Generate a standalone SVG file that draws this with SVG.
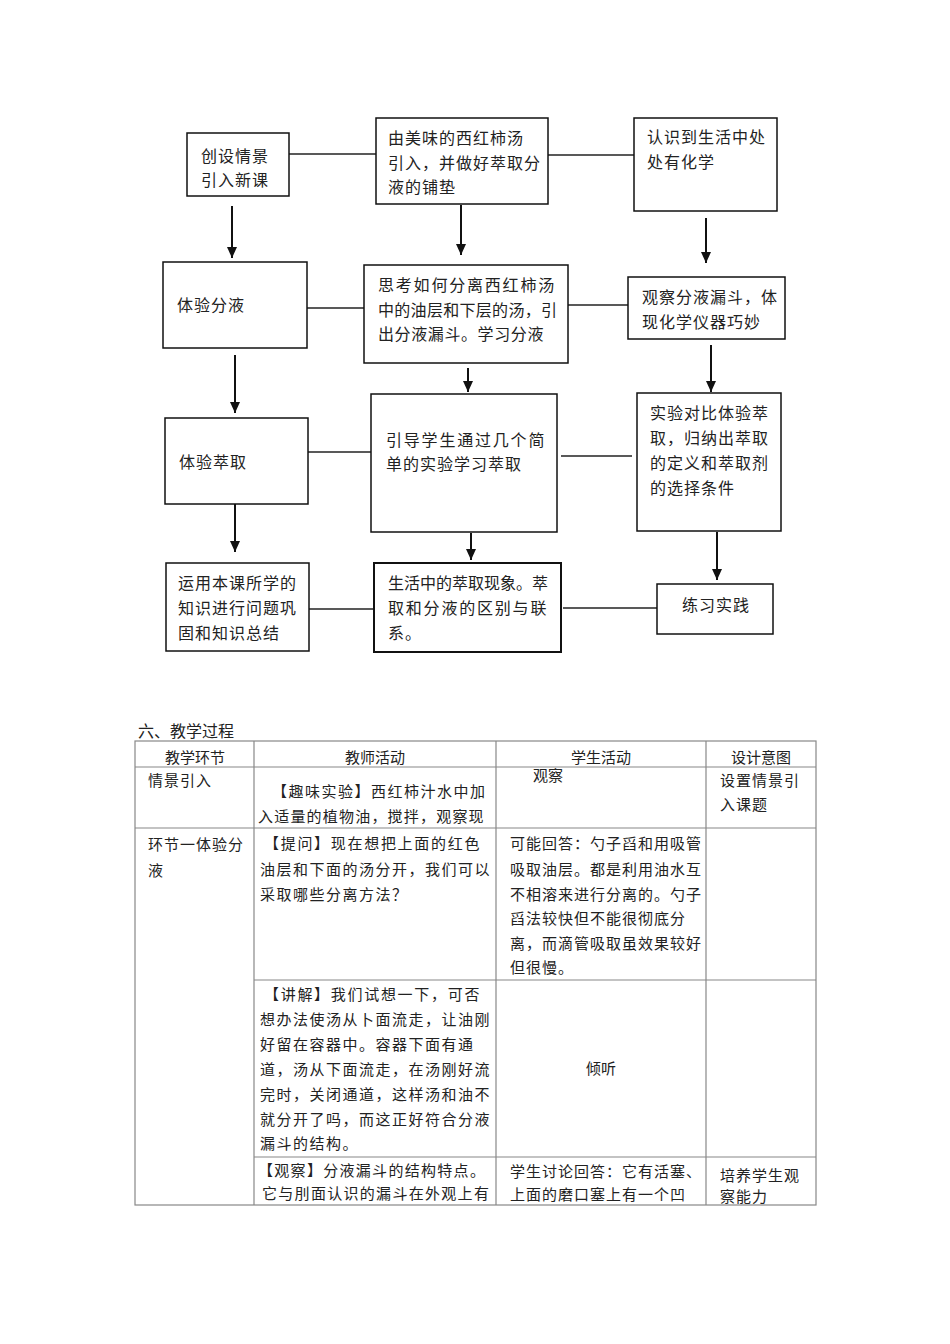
<svg xmlns="http://www.w3.org/2000/svg" width="950" height="1344" viewBox="0 0 950 1344">
<style>
.box{fill:#fff;stroke:#111;stroke-width:1.5}
.cn{stroke:#222;stroke-width:1.4;fill:none}
.ar{stroke:#111;stroke-width:2;fill:none}
.ft{font-family:"Noto Sans CJK SC","Noto Sans",sans-serif;font-size:16px;fill:#222;letter-spacing:1px}
.tt{font-family:"Noto Sans CJK SC","Noto Sans",sans-serif;font-size:15px;fill:#222}
.grid{stroke:#888;stroke-width:1.2;fill:none}
</style>
<defs>
<marker id="ah" markerWidth="11" markerHeight="10" refX="11" refY="5" orient="auto" markerUnits="userSpaceOnUse" viewBox="0 0 11 10">
<path d="M0,0 L11,5 L0,10 Z" fill="#111"/>
</marker>
</defs>
<rect width="950" height="1344" fill="#fff"/>

<g id="connectors">
<line class="cn" x1="289" y1="154" x2="376" y2="154"/>
<line class="cn" x1="548" y1="155" x2="634" y2="155"/>
<line class="cn" x1="307" y1="308" x2="364" y2="308"/>
<line class="cn" x1="568" y1="305" x2="628" y2="305"/>
<line class="cn" x1="308" y1="452" x2="371" y2="452"/>
<line class="cn" x1="561" y1="456" x2="632" y2="456"/>
<line class="cn" x1="309" y1="609" x2="374" y2="609"/>
<line class="cn" x1="563" y1="608" x2="657" y2="608"/>
<line class="ar" x1="232" y1="206" x2="232" y2="258" marker-end="url(#ah)"/>
<line class="ar" x1="461" y1="205" x2="461" y2="255" marker-end="url(#ah)"/>
<line class="ar" x1="706" y1="218" x2="706" y2="263" marker-end="url(#ah)"/>
<line class="ar" x1="235" y1="355" x2="235" y2="413" marker-end="url(#ah)"/>
<line class="ar" x1="468" y1="368" x2="468" y2="392" marker-end="url(#ah)"/>
<line class="ar" x1="711" y1="345" x2="711" y2="392" marker-end="url(#ah)"/>
<line class="ar" x1="235" y1="504" x2="235" y2="552" marker-end="url(#ah)"/>
<line class="ar" x1="471" y1="533" x2="471" y2="560" marker-end="url(#ah)"/>
<line class="ar" x1="717" y1="532" x2="717" y2="580" marker-end="url(#ah)"/>
</g>

<g id="nA">
<rect class="box" x="187" y="133" width="102" height="63"/>
<text class="ft" x="201" y="162">创设情景</text>
<text class="ft" x="201" y="186">引入新课</text>
</g>
<g id="nB">
<rect class="box" x="376" y="118" width="172" height="86"/>
<text class="ft" x="388" y="144">由美味的西红柿汤</text>
<text class="ft" x="388" y="169">引入，并做好萃取分</text>
<text class="ft" x="388" y="193">液的铺垫</text>
</g>
<g id="nC">
<rect class="box" x="634" y="118" width="143" height="93"/>
<text class="ft" x="647" y="143">认识到生活中处</text>
<text class="ft" x="647" y="168">处有化学</text>
</g>
<g id="nD">
<rect class="box" x="163" y="262" width="144" height="86"/>
<text class="ft" x="177" y="311">体验分液</text>
</g>
<g id="nE">
<rect class="box" x="364" y="265" width="204" height="98"/>
<text class="ft" x="378" y="291" style="letter-spacing:1.8px">思考如何分离西红柿汤</text>
<text class="ft" x="378" y="316" style="letter-spacing:0.3px">中的油层和下层的汤，引</text>
<text class="ft" x="378" y="340" style="letter-spacing:0.6px">出分液漏斗。学习分液</text>
</g>
<g id="nF">
<rect class="box" x="628" y="277" width="157" height="62"/>
<text class="ft" x="642" y="303">观察分液漏斗，体</text>
<text class="ft" x="642" y="328">现化学仪器巧妙</text>
</g>
<g id="nG">
<rect class="box" x="165" y="418" width="143" height="86"/>
<text class="ft" x="179" y="468">体验萃取</text>
</g>
<g id="nH">
<rect class="box" x="371" y="394" width="186" height="138"/>
<text class="ft" x="386" y="446" style="letter-spacing:1.8px">引导学生通过几个简</text>
<text class="ft" x="386" y="470">单的实验学习萃取</text>
</g>
<g id="nI">
<rect class="box" x="637" y="393" width="144" height="138"/>
<text class="ft" x="650" y="419">实验对比体验萃</text>
<text class="ft" x="650" y="444">取，归纳出萃取</text>
<text class="ft" x="650" y="469">的定义和萃取剂</text>
<text class="ft" x="650" y="494">的选择条件</text>
</g>
<g id="nJ">
<rect class="box" x="166" y="563" width="143" height="88"/>
<text class="ft" x="178" y="589">运用本课所学的</text>
<text class="ft" x="178" y="614">知识进行问题巩</text>
<text class="ft" x="178" y="639">固和知识总结</text>
</g>
<g id="nK">
<rect class="box" x="374" y="563" width="187" height="89" style="stroke-width:2"/>
<text class="ft" x="388" y="589" style="letter-spacing:0px">生活中的萃取现象。萃</text>
<text class="ft" x="388" y="614" style="letter-spacing:1.8px">取和分液的区别与联</text>
<text class="ft" x="388" y="639">系。</text>
</g>
<g id="nL">
<rect class="box" x="657" y="584" width="116" height="50"/>
<text class="ft" x="682" y="611">练习实践</text>
</g>

<g id="table">
<text class="tt" x="138" y="737" style="font-size:16px">六、教学过程</text>
<rect class="grid" x="135" y="741" width="681" height="464"/>
<line class="grid" x1="135" y1="767" x2="816" y2="767"/>
<line class="grid" x1="135" y1="828" x2="816" y2="828"/>
<line class="grid" x1="254" y1="980" x2="816" y2="980"/>
<line class="grid" x1="254" y1="1157" x2="816" y2="1157"/>
<line class="grid" x1="254" y1="741" x2="254" y2="1205"/>
<line class="grid" x1="496" y1="741" x2="496" y2="1205"/>
<line class="grid" x1="706" y1="741" x2="706" y2="1205"/>

<text class="tt" x="195" y="763" text-anchor="middle">教学环节</text>
<text class="tt" x="375" y="763" text-anchor="middle">教师活动</text>
<text class="tt" x="601" y="763" text-anchor="middle">学生活动</text>
<text class="tt" x="761" y="763" text-anchor="middle">设计意图</text>

<text class="tt" x="148" y="786" style="letter-spacing:1px">情景引入</text>
<text class="tt" x="272" y="797" style="letter-spacing:1.5px">【趣味实验】西红柿汁水中加</text>
<text class="tt" x="258" y="822" style="letter-spacing:1.2px">入适量的植物油，搅拌，观察现</text>
<text class="tt" x="533" y="781">观察</text>
<text class="tt" x="720" y="786" style="letter-spacing:1px">设置情景引</text>
<text class="tt" x="720" y="810" style="letter-spacing:1px">入课题</text>

<text class="tt" x="148" y="850" style="letter-spacing:1px">环节一体验分</text>
<text class="tt" x="148" y="876">液</text>
<text class="tt" x="264" y="849" style="letter-spacing:1.7px">【提问】现在想把上面的红色</text>
<text class="tt" x="260" y="875" style="letter-spacing:1.5px">油层和下面的汤分开，我们可以</text>
<text class="tt" x="260" y="900" style="letter-spacing:1.5px">采取哪些分离方法？</text>
<text class="tt" x="510" y="849" style="letter-spacing:1px">可能回答：勺子舀和用吸管</text>
<text class="tt" x="510" y="875" style="letter-spacing:1px">吸取油层。都是利用油水互</text>
<text class="tt" x="510" y="900" style="letter-spacing:1px">不相溶来进行分离的。勺子</text>
<text class="tt" x="510" y="924" style="letter-spacing:1px">舀法较快但不能很彻底分</text>
<text class="tt" x="510" y="949" style="letter-spacing:1px">离，而滴管吸取虽效果较好</text>
<text class="tt" x="510" y="973" style="letter-spacing:1px">但很慢。</text>

<text class="tt" x="264" y="1000" style="letter-spacing:1.7px">【讲解】我们试想一下，可否</text>
<text class="tt" x="260" y="1025" style="letter-spacing:1.5px">想办法使汤从卜面流走，让油刚</text>
<text class="tt" x="260" y="1050" style="letter-spacing:1.5px">好留在容器中。容器下面有通</text>
<text class="tt" x="260" y="1075" style="letter-spacing:1.5px">道，汤从下面流走，在汤刚好流</text>
<text class="tt" x="260" y="1100" style="letter-spacing:1.5px">完时，关闭通道，这样汤和油不</text>
<text class="tt" x="260" y="1125" style="letter-spacing:1.5px">就分开了吗，而这正好符合分液</text>
<text class="tt" x="260" y="1149" style="letter-spacing:1.5px">漏斗的结构。</text>
<text class="tt" x="601" y="1074" text-anchor="middle">倾听</text>

<text class="tt" x="258" y="1176" style="letter-spacing:1.3px">【观察】分液漏斗的结构特点。</text>
<text class="tt" x="262" y="1199" style="letter-spacing:1.3px">它与刖面认识的漏斗在外观上有</text>
<text class="tt" x="510" y="1177" style="letter-spacing:1px">学生讨论回答：它有活塞、</text>
<text class="tt" x="510" y="1200" style="letter-spacing:1px">上面的磨口塞上有一个凹</text>
<text class="tt" x="720" y="1181" style="letter-spacing:1px">培养学生观</text>
<text class="tt" x="720" y="1202" style="letter-spacing:1px">察能力</text>
</g>
</svg>
